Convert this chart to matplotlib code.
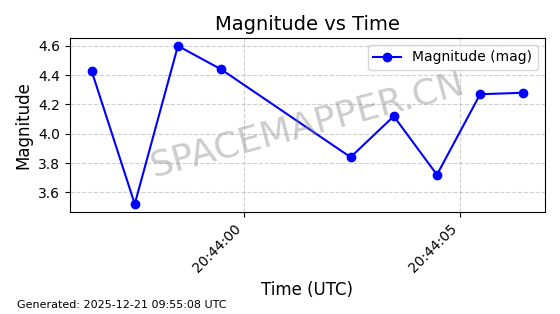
import matplotlib
matplotlib.use("Agg")
import matplotlib.pyplot as plt
import matplotlib.dates as mdates
import pandas as pd

# observation times (UTC) and magnitudes
times = pd.to_datetime([
    "2025-12-21 20:43:56.47", "2025-12-21 20:43:57.47", "2025-12-21 20:43:58.47",
    "2025-12-21 20:43:59.47", "2025-12-21 20:44:02.47", "2025-12-21 20:44:03.47",
    "2025-12-21 20:44:04.47", "2025-12-21 20:44:05.47", "2025-12-21 20:44:06.47",
])
magnitudes = [4.43, 3.52, 4.60, 4.44, 3.84, 4.12, 3.72, 4.27, 4.28]

fig = plt.figure(figsize=(5.6, 3.14), dpi=100)
ax = fig.add_axes([0.125, 0.325, 0.848, 0.554])

ax.plot(times, magnitudes, "o-", color="blue", markersize=6, linewidth=1.5,
        label="Magnitude (mag)")

ax.set_title("Magnitude vs Time", fontsize=14)
ax.set_xlabel("Time (UTC)", fontsize=12)
ax.set_ylabel("Magnitude", fontsize=12)
ax.grid(True, linestyle="--", alpha=0.6)
ax.legend(loc="upper right")

ax.xaxis.set_major_locator(mdates.SecondLocator(bysecond=range(0, 60, 5)))
ax.xaxis.set_major_formatter(mdates.DateFormatter("%H:%M:%S"))
plt.setp(ax.get_xticklabels(), rotation=45, ha="right")

ax.text(0.5, 0.5, "SPACEMAPPER.CN", transform=ax.transAxes, fontsize=26,
        color="gray", alpha=0.4, rotation=15, ha="center", va="center")

fig.text(0.03, 0.02, "Generated: 2025-12-21 09:55:08 UTC", fontsize=8)

fig.savefig("out.png", dpi=100)
